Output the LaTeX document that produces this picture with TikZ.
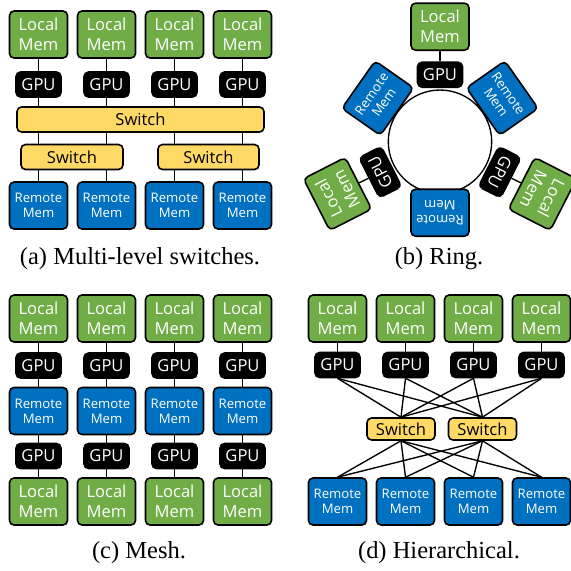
\documentclass[tikz,border=0pt]{standalone}
\usepackage{fontspec}
\setmainfont{Liberation Serif}
\newfontfamily\boxfont{Open Sans}
\usepackage{tikz}

\definecolor{memgreen}{HTML}{70AD47}
\definecolor{memblue}{HTML}{0070C0}
\definecolor{swyellow}{HTML}{FFD966}

% one pixel of the 571px figure
\newlength\px
\setlength\px{0.441pt}

\tikzset{
  box/.style={draw=black, line width=0.7pt, rounded corners=2pt, inner sep=0pt, align=center},
  localmem/.style={box, fill=memgreen, text=white, minimum width=58\px, minimum height=47\px,
    font=\boxfont\fontsize{7.3}{8.8}\selectfont},
  remotemem/.style={box, fill=memblue, text=white, minimum width=58\px, minimum height=47\px,
    font=\boxfont\fontsize{5.8}{6.6}\selectfont},
  gpubox/.style={box, fill=black, text=white, minimum width=45\px, minimum height=25\px,
    font=\boxfont\fontsize{7.3}{8.8}\selectfont},
  switchbox/.style={box, fill=swyellow, text=black, minimum height=25\px,
    font=\boxfont\fontsize{7.3}{8.8}\selectfont},
  link/.style={draw=black, line width=0.6pt},
  caption/.style={font=\fontsize{10.8}{13}\selectfont}
}

\begin{document}
\begin{tikzpicture}[x=\px, y=\px]
\useasboundingbox (0,0) rectangle (571,-571);

% Drawing (a) multi-level switches
\foreach \i/\x in {1/38.5,2/106.5,3/174.5,4/242.5}{
  \node[localmem] (la\i) at (\x,-34.5) {Local\\Mem};
  \node[gpubox] (ga\i) at (\x,-84.5) {GPU};
  \node[remotemem] (ra\i) at (\x,-205.5) {Remote\\Mem};
}
\node[switchbox, minimum width=247\px] (swa) at (140.5,-119.5) {Switch};
\node[switchbox, minimum width=102\px] (swa1) at (72,-157) {Switch};
\node[switchbox, minimum width=101\px] (swa2) at (208.5,-157) {Switch};
\foreach \i in {1,...,4}{
  \draw[link] (la\i) -- (ga\i);
  \draw[link] (ga\i) -- (ga\i |- swa.north);
}
\foreach \i/\s in {1/1,2/1,3/2,4/2}{
  \draw[link] (ga\i |- swa.south) -- (ga\i |- swa\s.north);
  \draw[link] (ra\i |- swa\s.south) -- (ra\i);
}
\node[caption] (capa) at (140,-259) {(a) Multi-level switches.};

% Drawing (b) ring
\coordinate (ringc) at (440,-141.7);
\draw[link] (ringc) circle (51.7);
\node[localmem, rotate=0] (lb1) at ([shift={(90:115)}]ringc) {Local\\Mem};
\node[gpubox, rotate=0] (gb1) at ([shift={(90:67)}]ringc) {GPU};
\node[localmem, rotate=117] (lb2) at ([shift={(207:115)}]ringc) {Local\\Mem};
\node[gpubox, rotate=117] (gb2) at ([shift={(207:67)}]ringc) {GPU};
\node[localmem, rotate=243] (lb3) at ([shift={(333:115)}]ringc) {Local\\Mem};
\node[gpubox, rotate=243] (gb3) at ([shift={(333:67)}]ringc) {GPU};
\node[remotemem, rotate=55] (rb1) at ([shift={(145:76)}]ringc) {Remote\\Mem};
\node[remotemem, rotate=-55] (rb2) at ([shift={(35:76)}]ringc) {Remote\\Mem};
\node[remotemem, rotate=180] (rb3) at ([shift={(270:71)}]ringc) {Remote\\Mem};
\draw[link] (lb1) -- (gb1);
\draw[link] (lb2) -- (gb2);
\draw[link] (lb3) -- (gb3);
\node[caption] (capb) at (439,-259) {(b) Ring.};

% Drawing (c) mesh
\foreach \i/\x in {1/38.5,2/106.5,3/174.5,4/242.5}{
  \node[localmem] (lc\i) at (\x,-318.5) {Local\\Mem};
  \node[gpubox] (gc\i) at (\x,-365.5) {GPU};
  \node[remotemem] (rc\i) at (\x,-411) {Remote\\Mem};
  \node[gpubox] (hc\i) at (\x,-456) {GPU};
  \node[localmem] (mc\i) at (\x,-501.5) {Local\\Mem};
  \draw[link] (lc\i) -- (gc\i);
  \draw[link] (gc\i) -- (rc\i);
  \draw[link] (rc\i) -- (hc\i);
  \draw[link] (hc\i) -- (mc\i);
}
\node[caption] (capc) at (139,-553) {(c) Mesh.};

% Drawing (d) hierarchical
\node[switchbox, minimum width=68\px, minimum height=22\px] (sd1) at (401,-429) {Switch};
\node[switchbox, minimum width=68\px, minimum height=22\px] (sd2) at (482.5,-429) {Switch};
\foreach \i/\x in {1/337.5,2/405.5,3/473.5,4/541.5}{
  \node[localmem] (ld\i) at (\x,-318.5) {Local\\Mem};
  \node[gpubox] (gd\i) at (\x,-365) {GPU};
  \node[remotemem] (rd\i) at (\x,-501.5) {Remote\\Mem};
  \draw[link] (ld\i) -- (gd\i);
  \foreach \j in {1,2}{
    \draw[link] (gd\i.south) -- (sd\j.north);
    \draw[link] (sd\j.south) -- (rd\i.north);
  }
}
\node[caption] (capd) at (439,-553) {(d) Hierarchical.};
\end{tikzpicture}
\end{document}
